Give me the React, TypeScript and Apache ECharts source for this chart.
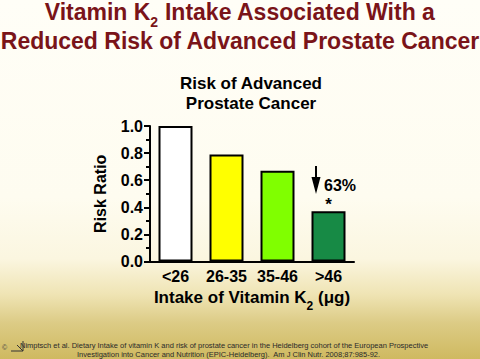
import React, { useEffect, useRef } from "react";
import * as echarts from "echarts";

const categories = ["<26", "26-35", "35-46", ">46"];
const riskRatios = [1.0, 0.79, 0.67, 0.37];
const barColors = ["#ffffff", "#ffff00", "#80ff00", "#178a45"];
const yTicks = { min: 0, max: 1, interval: 0.2 };
const significantIndex = 3;

const titleColor = "#7a1419";
const FONT = "Arial, 'Liberation Sans', Helvetica, sans-serif";

export default function App() {
  const ref = useRef<HTMLDivElement>(null);
  useEffect(() => {
    document.body.style.margin = "0";
    const chart = echarts.init(ref.current!, null, { renderer: "svg" });
    chart.setOption({
      animation: false,
      backgroundColor: "transparent",
      textStyle: { fontFamily: FONT },
      grid: { left: 150, top: 126, width: 204, height: 135.5 },
      xAxis: {
        type: "category",
        data: categories,
        axisLine: { lineStyle: { color: "#000", width: 2 } },
        axisTick: { alignWithLabel: true, length: 5, lineStyle: { color: "#000", width: 2 } },
        axisLabel: { interval: 0, color: "#000", fontWeight: "bold", fontSize: 16, margin: 7, fontFamily: FONT },
        name: "{a|Intake of Vitamin K}{s|2}{a| (μg)}",
        nameLocation: "middle",
        nameGap: 22,
        nameTextStyle: {
          rich: {
            a: { fontSize: 17, fontWeight: "bold", color: "#000", lineHeight: 28, fontFamily: FONT },
            s: { fontSize: 12, fontWeight: "bold", color: "#000", lineHeight: 12, verticalAlign: "bottom", fontFamily: FONT },
          },
        },
      },
      yAxis: {
        type: "value",
        min: yTicks.min,
        max: yTicks.max,
        interval: yTicks.interval,
        axisLine: { show: true, lineStyle: { color: "#000", width: 2 } },
        axisTick: { show: true, length: 6, lineStyle: { color: "#000", width: 2 } },
        minorTick: { show: true, splitNumber: 2, length: 4, lineStyle: { color: "#000", width: 2 } },
        splitLine: { show: false },
        axisLabel: {
          color: "#000",
          fontWeight: "bold",
          fontSize: 16,
          margin: 7,
          fontFamily: FONT,
          formatter: (v: number) => v.toFixed(1),
        },
        name: "Risk Ratio",
        nameLocation: "middle",
        nameGap: 42,
        nameTextStyle: { color: "#000", fontWeight: "bold", fontSize: 16, fontFamily: FONT },
      },
      series: [
        {
          type: "bar",
          barWidth: 34,
          data: riskRatios.map((v, i) => ({
            value: v,
            itemStyle: { color: barColors[i], borderColor: "#000", borderWidth: 2 },
            label:
              i === significantIndex
                ? { show: true, position: "top", formatter: "*", fontSize: 17, fontWeight: "bold", color: "#000", distance: -2, fontFamily: FONT }
                : { show: false },
          })),
        },
      ],
      graphic: [
        {
          type: "text",
          x: 240,
          y: 0,
          style: {
            text: "{a|Vitamin K}{s|2}{a| Intake Associated With a}\n{a|Reduced Risk of Advanced Prostate Cancer}",
            align: "center",
            verticalAlign: "top",
            rich: {
              a: { fontSize: 23, fontWeight: "bold", fill: titleColor, lineHeight: 28, verticalAlign: "top", fontFamily: FONT },
              s: { fontSize: 14, fontWeight: "bold", fill: titleColor, lineHeight: 29, verticalAlign: "bottom", fontFamily: FONT },
            },
          },
        },
        {
          type: "text",
          x: 251,
          y: 83,
          style: {
            text: "Risk of Advanced",
            align: "center",
            verticalAlign: "middle",
            font: `bold 17px ${FONT}`,
            fill: "#000",
          },
        },
        {
          type: "text",
          x: 251,
          y: 103,
          style: {
            text: "Prostate Cancer",
            align: "center",
            verticalAlign: "middle",
            font: `bold 17px ${FONT}`,
            fill: "#000",
          },
        },
        {
          type: "line",
          shape: { x1: 316, y1: 166, x2: 316, y2: 182 },
          style: { stroke: "#000", lineWidth: 2 },
        },
        {
          type: "polygon",
          shape: { points: [[311.5, 177], [320.5, 177], [316, 194]] },
          style: { fill: "#000" },
        },
        {
          type: "text",
          x: 324,
          y: 185,
          style: {
            text: "63%",
            align: "left",
            verticalAlign: "middle",
            font: `bold 16px ${FONT}`,
            fill: "#000",
          },
        },
        {
          type: "text",
          x: 20,
          y: 345,
          style: {
            text: "Nimptsch et al. Dietary Intake of vitamin K and risk of prostate cancer in the Heidelberg cohort of the European Prospective",
            align: "left",
            verticalAlign: "middle",
            font: `7.5px ${FONT}`,
            fill: "#2a2a2a",
          },
        },
        {
          type: "text",
          x: 77,
          y: 354,
          style: {
            text: "Investigation into Cancer and Nutrition (EPIC-Heidelberg).  Am J Clin Nutr. 2008;87:985-92.",
            align: "left",
            verticalAlign: "middle",
            font: `7.5px ${FONT}`,
            fill: "#2a2a2a",
          },
        },
        {
          type: "text",
          x: 2,
          y: 347,
          style: { text: "©", align: "left", verticalAlign: "middle", font: `7px ${FONT}`, fill: "#444" },
        },
        {
          type: "polyline",
          shape: { points: [[11, 351], [23, 351], [23, 341]] },
          style: { stroke: "#333", lineWidth: 1, fill: "none" },
        },
        {
          type: "line",
          shape: { x1: 17, y1: 345, x2: 23, y2: 351 },
          style: { stroke: "#333", lineWidth: 1 },
        },
      ],
    });
    return () => chart.dispose();
  }, []);
  return (
    <div
      ref={ref}
      style={{
        width: 480,
        height: 359,
        background:
          "linear-gradient(180deg, #fffef7 0%, #fefcf0 55%, #fbf6e0 72%, #efe4b4 82%, #dccb85 90%, #cfb960 100%)",
      }}
    />
  );
}
